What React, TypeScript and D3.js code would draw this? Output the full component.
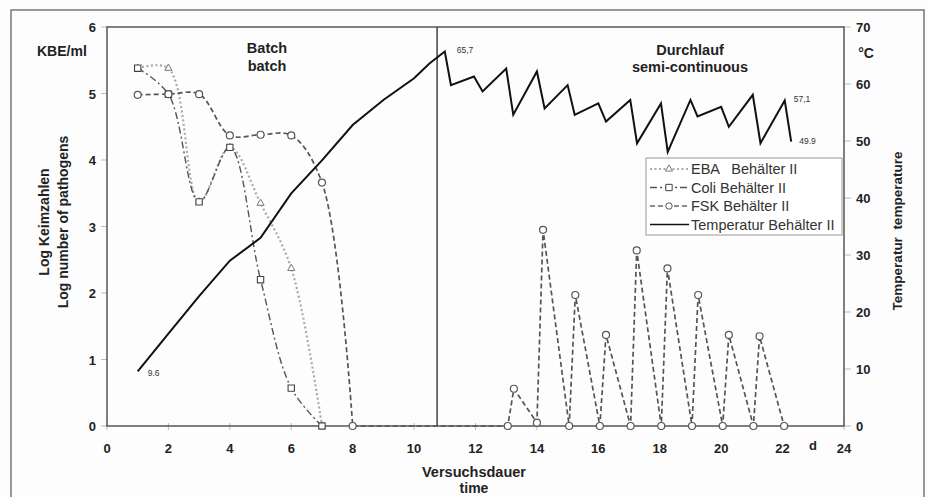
import React, { useEffect, useRef } from 'react'
import * as d3 from 'd3'

// pathogen counts (log KBE/ml), batch phase
const coliDays = [1, 2, 3, 4, 5, 6, 7]
const coliValues = [5.38, 4.99, 3.37, 4.19, 2.2, 0.57, 0]

const ebaDays = [1, 2, 3, 4, 5, 6, 7]
const ebaValues = [5.38, 5.38, 3.37, 4.19, 3.35, 2.37, 0]

const fskDays = [
  1, 2, 3, 4, 5, 6, 7, 8,
  13.05, 13.25, 14, 14.2, 15.05, 15.25, 16.05, 16.25, 17.05, 17.25,
  18.05, 18.25, 19.05, 19.25, 20.05, 20.25, 21.05, 21.25, 22.05,
]
const fskValues = [
  4.98, 4.99, 4.99, 4.37, 4.38, 4.37, 3.66, 0,
  0, 0.56, 0.05, 2.95, 0, 1.97, 0, 1.37, 0, 2.64,
  0, 2.37, 0, 1.97, 0, 1.37, 0, 1.35, 0,
]
const fskBatchCount = 8

// temperature (°C), right axis
const tempDays = [
  1, 2, 3, 4, 5, 6, 7, 8, 9, 10, 10.5, 11,
  11.2, 11.95, 12.23, 13, 13.23, 14, 14.25, 15, 15.23, 16, 16.25,
  17.04, 17.26, 18.04, 18.26, 19, 19.23, 20, 20.25, 21.03, 21.28, 22.07, 22.28,
]
const tempValues = [
  9.6, 16.2, 22.8, 29, 33, 40.8, 46.6, 52.8, 57.2, 61, 63.6, 65.7,
  59.8, 61.3, 58.7, 62.7, 54.6, 62.2, 55.7, 59.8, 54.6, 56.6, 53.4,
  57.2, 49.6, 56.6, 48.1, 57.2, 54.3, 56.0, 52.5, 58.1, 49.6, 57.1, 49.9,
]
const tempLabels = [
  { i: 0, text: '9.6', dx: 10, dy: 5 },
  { i: 11, text: '65,7', dx: 12, dy: 1 },
  { i: 33, text: '57,1', dx: 9, dy: 1 },
  { i: 34, text: '49.9', dx: 8, dy: 2 },
]

const xTicks = [0, 2, 4, 6, 8, 10, 12, 14, 16, 18, 20, 22, 24]
const leftTicks = [0, 1, 2, 3, 4, 5, 6]
const rightTicks = [0, 10, 20, 30, 40, 50, 60, 70]
const splitDay = 10.75

const legendItems = [
  { key: 'eba', label: 'EBA   Behälter II' },
  { key: 'coli', label: 'Coli Behälter II' },
  { key: 'fsk', label: 'FSK Behälter II' },
  { key: 'temp', label: 'Temperatur Behälter II' },
]

const FONT = "Arial, 'Liberation Sans', sans-serif"

const App = () => {
  const ref = useRef<SVGSVGElement>(null)

  useEffect(() => {
    const svg = d3.select(ref.current)
    svg.selectAll('*').remove()

    const left = 107
    const right = 844
    const top = 27
    const bottom = 426

    const x = d3.scaleLinear().domain([0, 24]).range([left, right])
    const yL = d3.scaleLinear().domain([0, 6]).range([bottom, top])
    const yR = d3.scaleLinear().domain([0, 70]).range([bottom, top])

    svg.append('rect').attr('width', 929).attr('height', 497).attr('fill', '#fdfdfd')

    // outer frame
    svg
      .append('path')
      .attr('d', 'M11,500 L11,10 L924,10 L924,500')
      .attr('fill', 'none')
      .attr('stroke', '#777')
      .attr('stroke-width', 1.5)

    // ticks
    const tickG = svg.append('g').attr('stroke', '#bbb').attr('stroke-width', 1)
    xTicks.forEach(t => {
      tickG.append('line').attr('x1', x(t)).attr('x2', x(t)).attr('y1', bottom - 3).attr('y2', bottom + 4)
    })
    leftTicks.forEach(t => {
      tickG.append('line').attr('x1', left - 6).attr('x2', left).attr('y1', yL(t)).attr('y2', yL(t))
    })
    rightTicks.forEach(t => {
      tickG.append('line').attr('x1', right).attr('x2', right + 7).attr('y1', yR(t)).attr('y2', yR(t))
    })

    // plot frame
    svg
      .append('rect')
      .attr('x', left)
      .attr('y', top)
      .attr('width', right - left)
      .attr('height', bottom - top)
      .attr('fill', 'none')
      .attr('stroke', '#555')
      .attr('stroke-width', 1.5)

    svg
      .append('line')
      .attr('x1', x(splitDay))
      .attr('x2', x(splitDay))
      .attr('y1', top)
      .attr('y2', bottom)
      .attr('stroke', '#444')
      .attr('stroke-width', 1.5)

    // tick labels
    const bold = (sel: any) =>
      sel.attr('font-family', FONT).attr('font-weight', 'bold').attr('fill', '#222')

    xTicks.forEach(t => {
      bold(svg.append('text'))
        .attr('x', x(t))
        .attr('y', bottom + 27)
        .attr('text-anchor', 'middle')
        .attr('font-size', 13)
        .text(t)
    })
    bold(svg.append('text'))
      .attr('x', 813)
      .attr('y', bottom + 24)
      .attr('text-anchor', 'middle')
      .attr('font-size', 13)
      .text('d')

    leftTicks.forEach(t => {
      bold(svg.append('text'))
        .attr('x', 96)
        .attr('y', yL(t) + 5)
        .attr('text-anchor', 'end')
        .attr('font-size', 13)
        .text(t)
    })
    rightTicks.forEach(t => {
      bold(svg.append('text'))
        .attr('x', 856)
        .attr('y', yR(t) + 5)
        .attr('font-size', 13)
        .text(t)
    })

    // titles
    bold(svg.append('text')).attr('x', 37).attr('y', 56).attr('font-size', 14).text('KBE/ml')
    bold(svg.append('text')).attr('x', 866).attr('y', 58).attr('text-anchor', 'middle').attr('font-size', 14).text('°C')

    const yTitle = bold(svg.append('text'))
      .attr('transform', 'translate(49,222) rotate(-90)')
      .attr('text-anchor', 'middle')
      .attr('font-size', 14)
    yTitle.append('tspan').attr('x', 0).attr('dy', 0).text('Log Keimzahlen')
    yTitle.append('tspan').attr('x', 0).attr('dy', 19).text('Log number of pathogens')

    bold(svg.append('text'))
      .attr('transform', 'translate(902,231) rotate(-90)')
      .attr('text-anchor', 'middle')
      .attr('font-size', 13.5)
      .style('white-space', 'pre')
      .text('Temperatur  temperature')

    bold(svg.append('text')).attr('x', 474).attr('y', 477).attr('text-anchor', 'middle').attr('font-size', 14.5).text('Versuchsdauer')
    bold(svg.append('text')).attr('x', 474).attr('y', 493).attr('text-anchor', 'middle').attr('font-size', 14).text('time')

    bold(svg.append('text')).attr('x', 267).attr('y', 53).attr('text-anchor', 'middle').attr('font-size', 14.5).text('Batch')
    bold(svg.append('text')).attr('x', 267).attr('y', 71).attr('text-anchor', 'middle').attr('font-size', 14.5).text('batch')
    bold(svg.append('text')).attr('x', 690).attr('y', 55).attr('text-anchor', 'middle').attr('font-size', 14.5).text('Durchlauf')
    bold(svg.append('text')).attr('x', 690).attr('y', 72).attr('text-anchor', 'middle').attr('font-size', 14.5).text('semi-continuous')

    // series
    const curved = d3
      .line<[number, number]>()
      .x(d => x(d[0]))
      .y(d => yL(d[1]))
      .curve(d3.curveCatmullRom)
    const straightL = d3
      .line<[number, number]>()
      .x(d => x(d[0]))
      .y(d => yL(d[1]))

    const ebaPts = ebaDays.map((d, i) => [d, ebaValues[i]] as [number, number])
    const coliPts = coliDays.map((d, i) => [d, coliValues[i]] as [number, number])
    const fskPts = fskDays.map((d, i) => [d, fskValues[i]] as [number, number])

    svg
      .append('path')
      .attr('d', curved(ebaPts))
      .attr('fill', 'none')
      .attr('stroke', '#aaa')
      .attr('stroke-width', 2.2)
      .attr('stroke-dasharray', '2,2.5')

    svg
      .append('path')
      .attr('d', curved(coliPts))
      .attr('fill', 'none')
      .attr('stroke', '#555')
      .attr('stroke-width', 1.4)
      .attr('stroke-dasharray', '7,3,2,3')

    const fskStyle = (p: any) =>
      p.attr('fill', 'none').attr('stroke', '#555').attr('stroke-width', 1.7).attr('stroke-dasharray', '5,3')
    fskStyle(svg.append('path').attr('d', curved(fskPts.slice(0, fskBatchCount))))
    fskStyle(svg.append('path').attr('d', straightL(fskPts.slice(fskBatchCount - 1))))

    const temp = d3
      .line<number>()
      .x((d, i) => x(tempDays[i]))
      .y(d => yR(d))
    svg
      .append('path')
      .attr('d', temp(tempValues))
      .attr('fill', 'none')
      .attr('stroke', '#111')
      .attr('stroke-width', 2)
      .attr('stroke-linejoin', 'miter')

    // markers
    const tri = d3.symbol().type(d3.symbolTriangle).size(22)
    const sq = d3.symbol().type(d3.symbolSquare).size(40)

    svg
      .selectAll('.eba')
      .data(ebaPts)
      .enter()
      .append('path')
      .attr('d', tri)
      .attr('transform', d => `translate(${x(d[0])},${yL(d[1])})`)
      .attr('fill', '#fff')
      .attr('stroke', '#777')
      .attr('stroke-width', 1)

    svg
      .selectAll('.coli')
      .data(coliPts)
      .enter()
      .append('path')
      .attr('d', sq)
      .attr('transform', d => `translate(${x(d[0])},${yL(d[1])})`)
      .attr('fill', '#fff')
      .attr('stroke', '#444')
      .attr('stroke-width', 1.1)

    svg
      .selectAll('.fsk')
      .data(fskPts)
      .enter()
      .append('circle')
      .attr('cx', d => x(d[0]))
      .attr('cy', d => yL(d[1]))
      .attr('r', 3.5)
      .attr('fill', '#fff')
      .attr('stroke', '#555')
      .attr('stroke-width', 1.2)

    tempLabels.forEach(l => {
      svg
        .append('text')
        .attr('x', x(tempDays[l.i]) + l.dx)
        .attr('y', yR(tempValues[l.i]) + l.dy)
        .attr('font-family', FONT)
        .attr('font-size', 8.5)
        .attr('fill', '#333')
        .text(l.text)
    })

    // legend
    const lg = svg.append('g').attr('transform', 'translate(646,158)')
    lg.append('rect').attr('width', 196).attr('height', 77).attr('fill', '#fff').attr('stroke', '#999')
    legendItems.forEach((item, i) => {
      const cy = 11 + i * 18.5
      const row = lg.append('g').attr('transform', `translate(0,${cy})`)
      const ln = row.append('line').attr('x1', 4).attr('x2', 43).attr('y1', 0).attr('y2', 0).attr('fill', 'none')
      if (item.key === 'eba') {
        ln.attr('stroke', '#aaa').attr('stroke-width', 2).attr('stroke-dasharray', '2,2.5')
        row.append('path').attr('d', tri).attr('transform', 'translate(23,0)').attr('fill', '#fff').attr('stroke', '#777')
      } else if (item.key === 'coli') {
        ln.attr('stroke', '#555').attr('stroke-width', 1.3).attr('stroke-dasharray', '7,3,2,3')
        row.append('path').attr('d', sq).attr('transform', 'translate(23,0)').attr('fill', '#fff').attr('stroke', '#444')
      } else if (item.key === 'fsk') {
        ln.attr('stroke', '#666').attr('stroke-width', 1.5).attr('stroke-dasharray', '5,3')
        row.append('circle').attr('cx', 23).attr('r', 3.2).attr('fill', '#fff').attr('stroke', '#555')
      } else {
        ln.attr('stroke', '#111').attr('stroke-width', 1.6)
      }
      row
        .append('text')
        .attr('x', 45)
        .attr('y', 5)
        .attr('font-family', FONT)
        .attr('font-size', 14.5)
        .attr('fill', '#333')
        .style('white-space', 'pre')
        .text(item.label)
    })
  }, [])

  return (
    <svg
      ref={ref}
      width={929}
      height={497}
      style={{ position: 'absolute', left: 0, top: 0 }}
    />
  )
}

export default App
